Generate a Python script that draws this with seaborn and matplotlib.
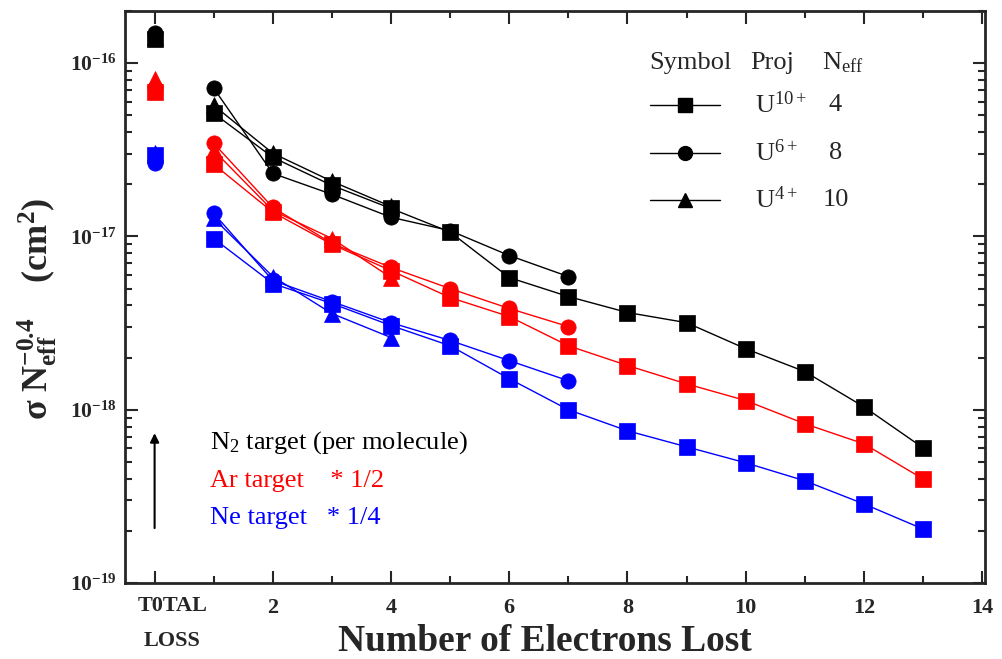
import math
import seaborn as sns
import pandas as pd
import matplotlib.pyplot as plt
from matplotlib.lines import Line2D
from matplotlib.ticker import FixedLocator, LogLocator, NullFormatter, FuncFormatter

# electrons lost (0 = total loss)
x_long = [0, 1, 2, 3, 4, 5, 6, 7, 8, 9, 10, 11, 12, 13]
x_mid = [0, 1, 2, 3, 4, 5, 6, 7]
x_short = [0, 1, 2, 3, 4]

# N2 target
n2_u10 = [1.38e-16, 5.14e-17, 2.86e-17, 1.97e-17, 1.45e-17, 1.06e-17, 5.79e-18, 4.50e-18,
          3.64e-18, 3.18e-18, 2.25e-18, 1.66e-18, 1.04e-18, 6.03e-19]
n2_u6 = [1.49e-16, 7.17e-17, 2.31e-17, 1.75e-17, 1.29e-17, 1.08e-17, 7.76e-18, 5.87e-18]
n2_u4 = [1.41e-16, 5.71e-17, 3.02e-17, 2.08e-17, 1.49e-17]

# Ar target (* 1/2)
ar_u10 = [6.80e-17, 2.61e-17, 1.38e-17, 9.0e-18, 6.35e-18, 4.44e-18, 3.45e-18, 2.34e-18,
          1.80e-18, 1.41e-18, 1.13e-18, 8.3e-19, 6.36e-19, 3.99e-19]
ar_u6 = [7.17e-17, 3.45e-17, 1.47e-17, 9.12e-18, 6.62e-18, 5.0e-18, 3.84e-18, 3.02e-18]
ar_u4 = [8.08e-17, 3.14e-17, 1.41e-17, 9.73e-18, 5.79e-18]

# Ne target (* 1/4)
ne_u10 = [2.94e-17, 9.73e-18, 5.35e-18, 4.10e-18, 3.06e-18, 2.34e-18, 1.51e-18, 1.0e-18,
          7.56e-19, 6.11e-19, 4.94e-19, 3.89e-19, 2.86e-19, 2.05e-19]
ne_u6 = [2.64e-17, 1.36e-17, 5.57e-18, 4.21e-18, 3.18e-18, 2.51e-18, 1.92e-18, 1.47e-18]
ne_u4 = [3.02e-17, 1.27e-17, 5.87e-18, 3.59e-18, 2.61e-18]

x_ticks = [0, 2, 4, 6, 8, 10, 12, 14]
x_ticklabels = ['', '2', '4', '6', '8', '10', '12', '14']
total_label = 'T0TAL\nLOSS'
y_ticks = [1e-19, 1e-18, 1e-17, 1e-16]
proj_labels = ['U$^{10+}$', 'U$^{6+}$', 'U$^{4+}$']
neff_labels = ['4', '8', '10']
markers = ['s', 'o', '^']

sns.set_style('ticks')
plt.rcParams['font.family'] = ['Liberation Serif', 'DejaVu Serif']
plt.rcParams['mathtext.fontset'] = 'custom'
plt.rcParams['mathtext.rm'] = 'Liberation Serif'
plt.rcParams['mathtext.it'] = 'Liberation Serif:italic'
plt.rcParams['mathtext.bf'] = 'Liberation Serif:bold'

fig = plt.figure(figsize=(10.02, 6.59), dpi=100)
ax = fig.add_axes([0.1248, 0.1153, 0.8583, 0.868])

groups = [
    ('black', [(x_long, n2_u10), (x_mid, n2_u6), (x_short, n2_u4)]),
    ('red', [(x_long, ar_u10), (x_mid, ar_u6), (x_short, ar_u4)]),
    ('blue', [(x_long, ne_u10), (x_mid, ne_u6), (x_short, ne_u4)]),
]

for color, series in groups:
    for (xs, ys), mk in zip(series, markers):
        df = pd.DataFrame({'x': xs, 'y': ys})
        rest = df[df.x > 0]
        total = df[df.x == 0]
        sns.lineplot(data=rest, x='x', y='y', ax=ax, color=color, marker=mk,
                     markersize=11, markeredgecolor=color, markeredgewidth=0.5,
                     linewidth=1.0, sort=False, legend=False)
        sns.lineplot(data=total, x='x', y='y', ax=ax, color=color, marker=mk,
                     markersize=11, markeredgecolor=color, markeredgewidth=0.5,
                     linewidth=0, legend=False)

ax.set_yscale('log')
ax.set_xlim(-0.5, 14.05)
ax.set_ylim(1e-19, 2e-16)

ax.xaxis.set_major_locator(FixedLocator(x_ticks))
ax.xaxis.set_minor_locator(FixedLocator([1, 3, 5, 7, 9, 11, 13]))
ax.set_xticklabels(x_ticklabels, fontweight='bold', fontsize=16)
# the TOTAL LOSS label sits a bit to the right of its tick
ax.text(0.3, -0.022, total_label, transform=ax.get_xaxis_transform(), ha='center',
        va='top', fontsize=16, fontweight='bold', linespacing=2.0)

ax.yaxis.set_major_locator(FixedLocator(y_ticks))
ax.yaxis.set_minor_locator(LogLocator(base=10, subs=range(2, 10), numticks=50))
ax.yaxis.set_minor_formatter(NullFormatter())
ax.yaxis.set_major_formatter(FuncFormatter(
    lambda v, p: r'$\mathbf{10^{%d}}$' % round(math.log10(v))))
ax.tick_params(axis='y', labelsize=15.5, pad=6)
ax.tick_params(axis='x', pad=11)

ax.tick_params(which='both', direction='in', top=True, right=True, width=1.5)
ax.tick_params(which='major', length=9)
ax.tick_params(which='minor', length=5)
for s in ax.spines.values():
    s.set_linewidth(2)

ax.set_xlabel('Number of Electrons Lost', fontsize=27, fontweight='bold', va='center')
ax.xaxis.set_label_coords(0.488, -0.103)
ax.set_ylabel(r'$\mathbf{\sigma\ N_{eff}^{-0.4}}$    $\mathbf{(cm^2)}$', fontsize=26,
              va='center')
ax.yaxis.set_label_coords(-0.102, 0.48)

# legend table
tr = ax.transAxes
fs = 19
ax.text(0.610, 0.909, 'Symbol', transform=tr, fontsize=fs, va='center')
ax.text(0.727, 0.909, 'Proj', transform=tr, fontsize=fs, va='center')
ax.text(0.810, 0.909, 'N$_{\\rm eff}$', transform=tr, fontsize=fs, va='center')
for yy, mk, pl, nl in zip([0.836, 0.752, 0.670], markers, proj_labels, neff_labels):
    ax.add_line(Line2D([0.610, 0.692], [yy, yy], transform=tr, color='black', lw=1.0))
    ax.add_line(Line2D([0.651], [yy], transform=tr, color='black', marker=mk,
                       markersize=10, lw=0))
    ax.text(0.733, yy, pl, transform=tr, fontsize=fs, va='center')
    ax.text(0.826, yy, nl, transform=tr, fontsize=fs, va='center', ha='center')

# target notes
ax.text(0.099, 0.245, 'N$_2$ target (per molecule)', transform=tr, fontsize=fs,
        va='center', color='black')
ax.text(0.099, 0.178, 'Ar target    * 1/2', transform=tr, fontsize=fs,
        va='center', color='red')
ax.text(0.099, 0.114, 'Ne target   * 1/4', transform=tr, fontsize=fs,
        va='center', color='blue')
ax.annotate('', xy=(0, 7.6e-19), xytext=(0, 2.0e-19),
            arrowprops=dict(arrowstyle='-|>', color='black', lw=1.5, mutation_scale=13))

fig.savefig('out.png', dpi=100)
